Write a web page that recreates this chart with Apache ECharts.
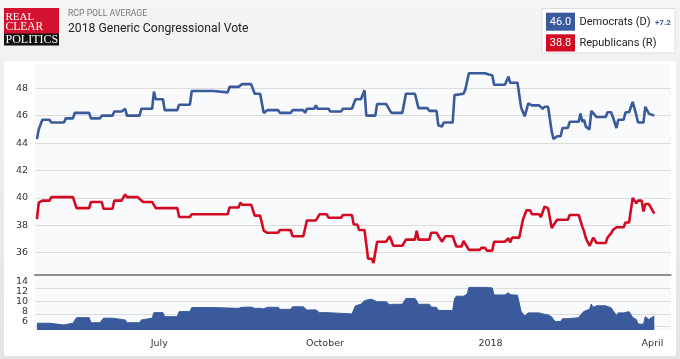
<!DOCTYPE html>
<html>
<head>
<meta charset="utf-8">
<script src="https://cdn.jsdelivr.net/npm/echarts@6/dist/echarts.min.js"></script>
<style>
html,body{margin:0;padding:0;}
#wrap{position:relative;width:680px;height:359px;background:linear-gradient(#f4f4f4,#e4e4e4);overflow:hidden;}
#panel{position:absolute;left:4px;top:61px;width:672px;height:295px;background:#fff;border-radius:3px;}
#chart{position:absolute;left:0;top:0;width:680px;height:359px;}
</style>
</head>
<body>
<div id="wrap"><div id="panel"></div><div id="chart"></div></div>
<script>
// ---- data ----
const demData = [['2017-04-24',44.3],['2017-04-25',45.0],['2017-04-26',45.0],['2017-04-27',45.7],['2017-05-01',45.7],['2017-05-02',45.5],['2017-05-09',45.5],['2017-05-10',45.8],['2017-05-14',45.8],['2017-05-15',46.2],['2017-05-23',46.2],['2017-05-24',45.8],['2017-05-29',45.8],['2017-05-30',46.0],['2017-06-05',46.0],['2017-06-06',46.3],['2017-06-10',46.3],['2017-06-12',46.5],['2017-06-13',46.0],['2017-06-20',46.0],['2017-06-21',46.5],['2017-06-27',46.5],['2017-06-28',47.75],['2017-06-29',47.2],['2017-07-03',47.2],['2017-07-04',46.4],['2017-07-11',46.4],['2017-07-12',46.8],['2017-07-18',46.8],['2017-07-19',47.8],['2017-07-31',47.8],['2017-08-01',47.7],['2017-08-08',47.7],['2017-08-09',48.1],['2017-08-14',48.1],['2017-08-15',48.0],['2017-08-16',48.3],['2017-08-21',48.3],['2017-08-23',47.6],['2017-08-26',47.6],['2017-08-28',46.2],['2017-08-30',46.4],['2017-09-05',46.4],['2017-09-06',46.2],['2017-09-12',46.2],['2017-09-13',46.4],['2017-09-19',46.4],['2017-09-20',46.2],['2017-09-21',46.5],['2017-09-25',46.5],['2017-09-26',46.75],['2017-09-27',46.5],['2017-10-03',46.5],['2017-10-04',46.3],['2017-10-10',46.3],['2017-10-11',46.5],['2017-10-16',46.5],['2017-10-18',47.2],['2017-10-21',47.2],['2017-10-23',47.85],['2017-10-24',46.0],['2017-10-29',46.0],['2017-10-30',46.85],['2017-11-04',46.85],['2017-11-06',46.4],['2017-11-07',46.2],['2017-11-13',46.2],['2017-11-15',47.6],['2017-11-20',47.6],['2017-11-22',46.55],['2017-11-27',46.55],['2017-11-28',46.35],['2017-12-02',46.35],['2017-12-03',45.3],['2017-12-05',45.2],['2017-12-06',45.5],['2017-12-11',45.5],['2017-12-12',47.5],['2017-12-13',47.6],['2017-12-17',47.6],['2017-12-18',47.9],['2017-12-19',47.9],['2017-12-20',49.1],['2017-12-29',49.1],['2017-12-31',49.0],['2018-01-02',48.95],['2018-01-03',48.25],['2018-01-09',48.25],['2018-01-11',48.85],['2018-01-12',48.4],['2018-01-16',48.4],['2018-01-18',46.6],['2018-01-20',45.95],['2018-01-22',46.9],['2018-01-24',46.75],['2018-01-28',46.75],['2018-01-30',46.5],['2018-01-31',46.65],['2018-02-02',46.65],['2018-02-04',44.85],['2018-02-05',44.3],['2018-02-06',44.3],['2018-02-07',44.5],['2018-02-09',44.5],['2018-02-10',45.1],['2018-02-13',45.1],['2018-02-14',45.55],['2018-02-19',45.55],['2018-02-20',46.15],['2018-02-21',45.55],['2018-02-22',45.7],['2018-02-23',45.2],['2018-02-25',45.0],['2018-02-26',46.35],['2018-02-27',46.3],['2018-03-01',45.9],['2018-03-06',45.9],['2018-03-07',46.25],['2018-03-09',46.25],['2018-03-10',45.9],['2018-03-12',45.1],['2018-03-13',45.7],['2018-03-16',45.7],['2018-03-17',46.25],['2018-03-19',46.25],['2018-03-21',47.0],['2018-03-23',46.05],['2018-03-24',45.5],['2018-03-27',45.5],['2018-03-28',46.65],['2018-03-29',46.6],['2018-03-30',46.15],['2018-04-02',46.0]];

const repData = [['2017-04-24',38.45],['2017-04-25',39.65],['2017-04-27',39.8],['2017-05-01',39.8],['2017-05-02',40.05],['2017-05-14',40.05],['2017-05-16',39.25],['2017-05-23',39.25],['2017-05-24',39.7],['2017-05-30',39.7],['2017-05-31',39.2],['2017-06-05',39.2],['2017-06-06',39.8],['2017-06-10',39.8],['2017-06-12',40.25],['2017-06-13',40.05],['2017-06-19',40.05],['2017-06-22',39.7],['2017-06-27',39.7],['2017-06-29',39.25],['2017-07-11',39.25],['2017-07-12',38.6],['2017-07-18',38.6],['2017-07-19',38.8],['2017-08-08',38.8],['2017-08-09',39.3],['2017-08-14',39.3],['2017-08-15',39.65],['2017-08-16',39.5],['2017-08-21',39.5],['2017-08-23',38.7],['2017-08-26',38.7],['2017-08-28',37.6],['2017-08-30',37.45],['2017-09-05',37.45],['2017-09-06',37.65],['2017-09-12',37.65],['2017-09-13',37.2],['2017-09-19',37.2],['2017-09-21',38.35],['2017-09-26',38.35],['2017-09-28',38.8],['2017-10-02',38.8],['2017-10-03',38.55],['2017-10-10',38.55],['2017-10-11',38.75],['2017-10-16',38.75],['2017-10-17',38.05],['2017-10-19',38.05],['2017-10-20',37.65],['2017-10-23',37.65],['2017-10-25',35.55],['2017-10-27',35.55],['2017-10-28',35.25],['2017-10-30',36.8],['2017-11-04',36.8],['2017-11-06',37.2],['2017-11-08',36.5],['2017-11-13',36.5],['2017-11-15',36.95],['2017-11-20',36.95],['2017-11-21',37.6],['2017-11-22',36.95],['2017-11-28',36.95],['2017-11-29',37.45],['2017-12-02',37.45],['2017-12-05',36.8],['2017-12-07',37.2],['2017-12-11',37.2],['2017-12-13',36.45],['2017-12-16',36.45],['2017-12-17',36.85],['2017-12-20',36.2],['2017-12-26',36.2],['2017-12-27',36.35],['2017-12-29',36.35],['2017-12-30',36.15],['2018-01-02',36.15],['2018-01-03',36.8],['2018-01-09',36.8],['2018-01-11',37.05],['2018-01-12',36.75],['2018-01-13',37.1],['2018-01-17',37.1],['2018-01-19',38.4],['2018-01-21',39.1],['2018-01-23',39.1],['2018-01-24',38.8],['2018-01-28',38.8],['2018-01-29',38.6],['2018-01-31',39.35],['2018-02-02',39.25],['2018-02-04',37.8],['2018-02-05',37.8],['2018-02-07',38.4],['2018-02-13',38.4],['2018-02-14',38.75],['2018-02-19',38.75],['2018-02-21',37.9],['2018-02-22',37.55],['2018-02-23',37.05],['2018-02-25',36.5],['2018-02-26',36.75],['2018-02-27',37.1],['2018-03-01',36.7],['2018-03-06',36.7],['2018-03-07',37.1],['2018-03-09',37.4],['2018-03-10',37.65],['2018-03-12',37.85],['2018-03-16',37.85],['2018-03-17',38.2],['2018-03-19',38.2],['2018-03-21',40.0],['2018-03-23',39.6],['2018-03-24',39.8],['2018-03-26',39.8],['2018-03-27',39.0],['2018-03-28',39.55],['2018-03-30',39.55],['2018-04-02',38.85]];

const spreadData = [['2017-04-24',5.75],['2017-04-25',5.4],['2017-04-27',5.75],['2017-05-01',5.75],['2017-05-02',5.4],['2017-05-09',5.4],['2017-05-10',5.75],['2017-05-14',5.75],['2017-05-15',6.3],['2017-05-16',6.85],['2017-05-23',6.85],['2017-05-24',5.85],['2017-05-29',5.85],['2017-05-30',6.2],['2017-05-31',6.75],['2017-06-05',6.75],['2017-06-06',6.4],['2017-06-12',6.4],['2017-06-13',5.85],['2017-06-20',5.85],['2017-06-21',6.4],['2017-06-22',6.75],['2017-06-27',6.75],['2017-06-28',7.85],['2017-07-03',7.85],['2017-07-04',7.05],['2017-07-11',7.05],['2017-07-12',8.05],['2017-07-18',8.05],['2017-07-19',8.85],['2017-07-31',8.85],['2017-08-01',8.7],['2017-08-14',8.7],['2017-08-15',8.8],['2017-08-16',8.9],['2017-08-21',8.95],['2017-08-23',8.7],['2017-08-26',8.7],['2017-08-28',8.6],['2017-08-30',8.9],['2017-09-05',8.9],['2017-09-06',8.5],['2017-09-12',8.5],['2017-09-13',9.0],['2017-09-19',9.0],['2017-09-21',8.35],['2017-09-26',8.4],['2017-09-28',7.85],['2017-10-02',7.85],['2017-10-03',7.6],['2017-10-16',7.6],['2017-10-17',8.4],['2017-10-18',9.2],['2017-10-21',9.5],['2017-10-23',10.2],['2017-10-25',10.4],['2017-10-27',10.5],['2017-10-28',10.75],['2017-10-30',10.0],['2017-11-04',10.0],['2017-11-06',9.4],['2017-11-08',9.5],['2017-11-13',9.5],['2017-11-15',10.65],['2017-11-20',10.65],['2017-11-21',10.2],['2017-11-22',9.5],['2017-11-28',9.5],['2017-11-29',8.95],['2017-12-02',8.9],['2017-12-03',8.3],['2017-12-11',8.25],['2017-12-12',10.6],['2017-12-13',11.1],['2017-12-17',11.1],['2017-12-18',11.4],['2017-12-19',11.5],['2017-12-20',12.85],['2017-12-29',12.85],['2017-12-31',12.8],['2018-01-02',12.75],['2018-01-03',11.35],['2018-01-09',11.35],['2018-01-11',11.8],['2018-01-12',11.4],['2018-01-16',11.3],['2018-01-18',8.1],['2018-01-20',7.2],['2018-01-22',7.8],['2018-01-28',7.8],['2018-01-30',7.6],['2018-02-02',7.4],['2018-02-04',7.0],['2018-02-05',6.5],['2018-02-06',6.1],['2018-02-09',6.1],['2018-02-10',6.65],['2018-02-13',6.65],['2018-02-14',6.85],['2018-02-19',6.85],['2018-02-20',7.4],['2018-02-21',7.65],['2018-02-22',8.1],['2018-02-23',8.15],['2018-02-25',8.5],['2018-02-26',9.55],['2018-02-27',8.9],['2018-03-01',9.2],['2018-03-06',9.2],['2018-03-07',9.1],['2018-03-09',8.8],['2018-03-10',8.3],['2018-03-12',7.3],['2018-03-13',7.8],['2018-03-16',7.8],['2018-03-17',8.05],['2018-03-19',8.05],['2018-03-21',6.9],['2018-03-23',6.5],['2018-03-24',5.6],['2018-03-27',5.55],['2018-03-28',7.05],['2018-03-29',7.0],['2018-03-30',6.5],['2018-04-02',7.2]];

const xTickDates = ['2017-07-01','2017-10-01','2018-01-01','2018-04-01'];
const xTickLabels = ['July','October','2018','April'];
const latest = {dem: '46.0', rep: '38.8', spread: '+7.2'};
const titleText = '2018 Generic Congressional Vote';
const subtitleText = 'RCP POLL AVERAGE';

// ---- helpers ----
const ts = s => Date.UTC(+s.slice(0,4), +s.slice(5,7)-1, +s.slice(8,10));
const conv = arr => arr.map(d => [ts(d[0]), d[1]]);
const xMin = Date.UTC(2017,3,22,22);
const xMax = Date.UTC(2018,3,11,3);
const BLUE = '#3a5a9b', RED = '#d20b22';
const axisFont = 'DejaVu Sans';
const isInt = v => Math.abs(v - Math.round(v)) < 1e-6;
const tickLabel = v => {
  let best = 0, bd = Infinity;
  xTickDates.forEach((d, i) => { const dd = Math.abs(ts(d) - v); if (dd < bd) { bd = dd; best = i; } });
  return bd < 86400000 ? xTickLabels[best] : '';
};

const chart = echarts.init(document.getElementById('chart'), null, {renderer:'canvas'});
chart.setOption({
  animation: false,
  backgroundColor: 'transparent',
  grid: [
    {left: 35, right: 9.3, top: 64, height: 210.3, show: true, backgroundColor: '#f9fafc', borderWidth: 0},
    {left: 35, right: 9.3, top: 274.3, height: 55.7, show: true, backgroundColor: '#f9fafc', borderWidth: 0}
  ],
  xAxis: [
    {type: 'value', gridIndex: 0, min: xMin, max: xMax, scale: true,
     axisLine: {show: true, onZero: false, lineStyle: {color: '#8f8f8f', width: 2}},
     axisTick: {show: false}, axisLabel: {show: false}, splitLine: {show: false}},
    {type: 'value', gridIndex: 1, min: xMin, max: xMax, scale: true,
     axisLine: {show: false}, axisTick: {show: false}, splitLine: {show: false},
     axisLabel: {
       customValues: xTickDates.map(ts),
       formatter: tickLabel,
       color: '#333', fontFamily: axisFont, fontSize: 9.5, margin: 9, hideOverlap: false
     }}
  ],
  yAxis: [
    {type: 'value', gridIndex: 0, min: 34.42, max: 49.77, minInterval: 2, maxInterval: 2,
     axisLine: {show: false}, axisTick: {show: false},
     axisLabel: {color: '#333', fontFamily: axisFont, fontSize: 9.5, margin: 7,
                 formatter: v => isInt(v) ? String(Math.round(v)) : ''},
     splitLine: {show: true, showMinLine: false, showMaxLine: false, lineStyle: {color: '#dcdcdc', width: 1}}},
    {type: 'value', gridIndex: 1, min: 4.41, max: 15.44, minInterval: 2, maxInterval: 2,
     axisLine: {show: false}, axisTick: {show: false},
     axisLabel: {color: '#333', fontFamily: axisFont, fontSize: 9.5, margin: 7,
                 formatter: v => isInt(v) && Math.round(v) <= 14 ? String(Math.round(v)) : ''},
     splitLine: {show: false}},
    {type: 'value', gridIndex: 1, min: 0.742, max: 5.094, minInterval: 1, maxInterval: 1,
     axisLine: {show: false}, axisTick: {show: false}, axisLabel: {show: false},
     splitLine: {show: true, showMinLine: false, showMaxLine: false, lineStyle: {color: '#dcdcdc', width: 1}}}
  ],
  series: [
    {name: 'Democrats (D)', type: 'line', xAxisIndex: 0, yAxisIndex: 0, data: conv(demData),
     showSymbol: false, symbol: 'none', lineStyle: {color: BLUE, width: 2.6}, itemStyle: {color: BLUE}, z: 3},
    {name: 'Republicans (R)', type: 'line', xAxisIndex: 0, yAxisIndex: 0, data: conv(repData),
     showSymbol: false, symbol: 'none', lineStyle: {color: RED, width: 2.6}, itemStyle: {color: RED}, z: 3},
    {name: 'Spread', type: 'line', xAxisIndex: 1, yAxisIndex: 1, data: conv(spreadData),
     showSymbol: false, symbol: 'none', lineStyle: {color: BLUE, width: 1}, itemStyle: {color: BLUE},
     areaStyle: {color: BLUE, opacity: 1, origin: 'start'}, z: 3}
  ],
  graphic: [
    {type: 'rect', shape: {x: 4, y: 8, width: 55, height: 26}, style: {fill: '#d2122e'}},
    {type: 'rect', shape: {x: 4, y: 33.5, width: 55, height: 12}, style: {fill: '#111'}},
    {type: 'text', x: 5.5, y: 16.8, style: {text: 'REAL', fill: '#fff', font: '11px "Liberation Serif"', verticalAlign: 'middle'}},
    {type: 'text', x: 5.5, y: 26.8, style: {text: 'CLEAR', fill: '#fff', font: '11.5px "Liberation Serif"', verticalAlign: 'middle'}},
    {type: 'text', x: 5.5, y: 39.5, style: {text: 'POLITICS', fill: '#fff', font: '12px "Liberation Serif"', verticalAlign: 'middle'}},
    {type: 'text', x: 68, y: 14, style: {text: subtitleText, fill: '#777', font: '8.7px Roboto', verticalAlign: 'middle'}},
    {type: 'text', x: 68, y: 28.5, style: {text: titleText, fill: '#222', font: '12.2px Roboto', verticalAlign: 'middle'}},
    {type: 'rect', shape: {x: 542, y: 8.5, width: 133, height: 44.5}, style: {fill: '#fff', stroke: '#dedede', lineWidth: 1}},
    {type: 'rect', shape: {x: 546, y: 12.7, width: 29, height: 18}, style: {fill: BLUE}},
    {type: 'rect', shape: {x: 546, y: 34.3, width: 29, height: 17.2}, style: {fill: RED}},
    {type: 'text', x: 560.5, y: 22, style: {text: latest.dem, fill: '#fff', font: '11px Roboto', align: 'center', verticalAlign: 'middle'}},
    {type: 'text', x: 560.5, y: 43.2, style: {text: latest.rep, fill: '#fff', font: '11px Roboto', align: 'center', verticalAlign: 'middle'}},
    {type: 'text', x: 579.5, y: 22, style: {text: 'Democrats (D)', fill: '#222', font: '11px Roboto', verticalAlign: 'middle'}},
    {type: 'text', x: 655, y: 22.5, style: {text: latest.spread, fill: BLUE, font: 'bold 8px Roboto', verticalAlign: 'middle'}},
    {type: 'text', x: 579.5, y: 43.2, style: {text: 'Republicans (R)', fill: '#222', font: '11px Roboto', verticalAlign: 'middle'}}
  ]
});
</script>
</body>
</html>
